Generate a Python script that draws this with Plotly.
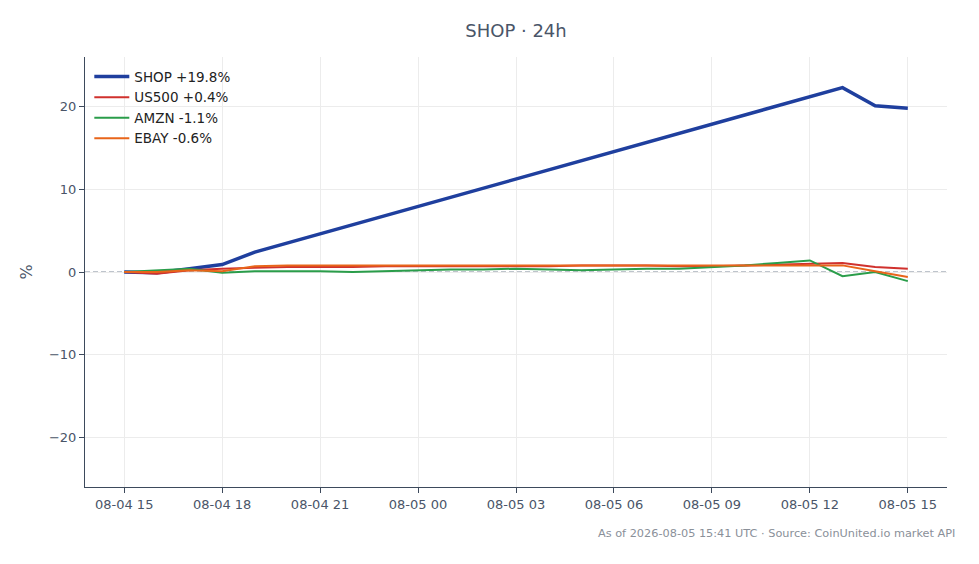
import plotly.graph_objects as go

# hourly timestamps (UTC)
hours = [
    "2026-08-04 15:00", "2026-08-04 16:00", "2026-08-04 17:00", "2026-08-04 18:00",
    "2026-08-04 19:00", "2026-08-04 20:00", "2026-08-04 21:00", "2026-08-04 22:00",
    "2026-08-04 23:00", "2026-08-05 00:00", "2026-08-05 01:00", "2026-08-05 02:00",
    "2026-08-05 03:00", "2026-08-05 04:00", "2026-08-05 05:00", "2026-08-05 06:00",
    "2026-08-05 07:00", "2026-08-05 08:00", "2026-08-05 09:00", "2026-08-05 10:00",
    "2026-08-05 11:00", "2026-08-05 12:00", "2026-08-05 13:00", "2026-08-05 14:00",
    "2026-08-05 15:00",
]

# SHOP has a gap in its feed overnight
shop_times = [
    "2026-08-04 15:00", "2026-08-04 16:00", "2026-08-04 17:00", "2026-08-04 18:00",
    "2026-08-04 19:00", "2026-08-05 13:00", "2026-08-05 14:00", "2026-08-05 15:00",
]
shop_pct = [0.0, -0.1, 0.4, 0.9, 2.4, 22.3, 20.1, 19.8]

us500_pct = [0.0, -0.2, 0.2, 0.4, 0.5, 0.6, 0.6, 0.6, 0.7, 0.7, 0.7, 0.7, 0.7,
             0.7, 0.8, 0.8, 0.8, 0.7, 0.7, 0.8, 0.9, 1.0, 1.1, 0.6, 0.4]
amzn_pct = [0.0, 0.2, 0.4, -0.1, 0.1, 0.1, 0.1, 0.0, 0.1, 0.2, 0.3, 0.3, 0.4,
            0.3, 0.2, 0.3, 0.4, 0.4, 0.6, 0.8, 1.1, 1.4, -0.5, 0.0, -1.1]
ebay_pct = [0.0, 0.0, 0.2, 0.1, 0.7, 0.8, 0.8, 0.8, 0.8, 0.8, 0.8, 0.8, 0.8,
            0.8, 0.8, 0.8, 0.8, 0.8, 0.8, 0.8, 0.8, 0.8, 0.8, 0.1, -0.6]

series = [
    ("SHOP +19.8%", shop_times, shop_pct, "#1f3f9e", 3.5),
    ("US500 +0.4%", hours, us500_pct, "#d0312d", 2),
    ("AMZN -1.1%", hours, amzn_pct, "#2a9d4a", 2),
    ("EBAY -0.6%", hours, ebay_pct, "#e8651a", 2),
]

fig = go.Figure()
for name, x, y, color, width in series:
    fig.add_trace(go.Scatter(
        x=x, y=y, mode="lines", name=name,
        line=dict(color=color, width=width),
    ))

# zero reference
fig.add_hline(y=0, layer="below", line=dict(color="#7f8a9a", width=1.1, dash="5px,3px"))

axis_color = "#3d4a5c"
text_color = "#4a5568"

fig.update_layout(
    template="plotly_white",
    width=979, height=564,
    # page body adds an 8px offset, so margins are trimmed to match
    margin=dict(l=77, r=40, t=49, b=85),
    font=dict(family="DejaVu Sans", size=13, color=text_color),
    title=dict(text="SHOP · 24h", xref="paper", x=0.5, xanchor="center",
               y=1 - 23 / 564, yanchor="middle",
               font=dict(size=18, color=text_color)),
    legend=dict(x=0.005, y=0.99, xanchor="left", yanchor="top", itemwidth=35,
                bgcolor="rgba(0,0,0,0)", font=dict(size=13.5, color="#222")),
    plot_bgcolor="white",
    paper_bgcolor="white",
)

fig.update_xaxes(
    range=["2026-08-04 13:48", "2026-08-05 16:12"],
    tick0="2026-08-04 15:00", dtick=3 * 3600 * 1000,
    tickformat="%m-%d %H",
    showline=True, linecolor=axis_color, linewidth=1,
    ticks="outside", tickcolor=axis_color, ticklen=5,
    showgrid=True, gridcolor="#ececec", zeroline=False,
)
fig.update_yaxes(
    range=[-26, 26], dtick=10,
    title=dict(text="%", standoff=12),
    showline=True, linecolor=axis_color, linewidth=1,
    ticks="outside", tickcolor=axis_color, ticklen=5,
    showgrid=True, gridcolor="#ececec", zeroline=False,
)

fig.add_annotation(
    text="As of 2026-08-05 15:41 UTC · Source: CoinUnited.io market API",
    xref="paper", yref="paper", x=1.0116, y=-0.088,
    xanchor="right", yanchor="top", showarrow=False,
    font=dict(size=11.3, color="#8a9099"),
)

fig.write_html("out.html")
